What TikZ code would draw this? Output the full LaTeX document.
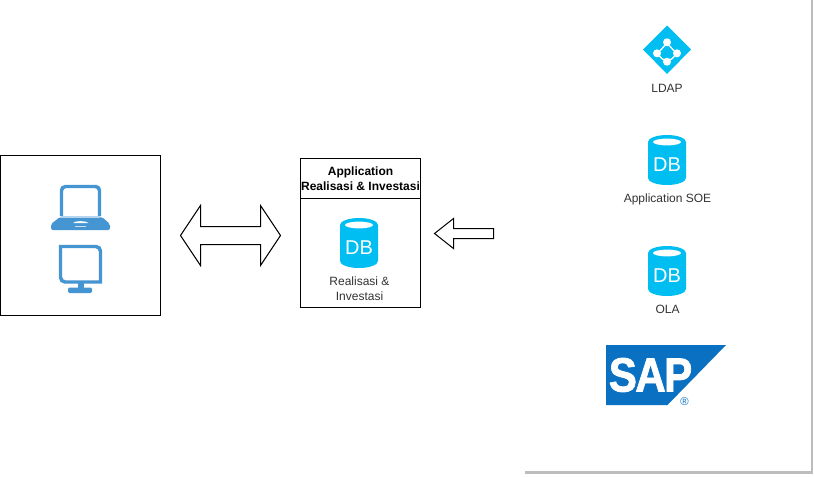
\documentclass[tikz,border=0pt]{standalone}
\usepackage{fontspec}
\setmainfont{Liberation Sans}
\newfontfamily\sapfont[FakeBold=1.6,LetterSpace=-4]{Liberation Sans Bold}
\definecolor{dbblue}{HTML}{00BEF2}
\definecolor{devblue}{HTML}{4495D1}
\definecolor{sapblue}{HTML}{0A70C2}
\definecolor{edgegray}{HTML}{BDBDBD}
\definecolor{labelgray}{HTML}{333333}
\tikzset{
  boxline/.style={draw=black,line width=0.75pt},
  arrowshape/.style={draw=black,fill=white,line width=0.75pt,line join=miter},
  caption/.style={font=\fontsize{9}{11}\selectfont,text=labelgray,align=center,inner sep=0pt},
  title/.style={font=\fontsize{9}{11.2}\selectfont\bfseries,text=black,align=center,inner sep=0pt},
  devline/.style={draw=devblue,line width=2.6pt},
  dbicon/.pic={
    \fill[dbblue] (0,7) arc[start angle=180,end angle=360,x radius=19,y radius=7]
       -- (38,43) arc[start angle=0,end angle=180,x radius=19,y radius=7] -- cycle;
    \fill[white] (19,7) ellipse[x radius=14,y radius=3.4];
    \node[text=white,inner sep=0pt,font=\fontsize{15}{15}\selectfont] at (19,30) {DB};
  }
}
\begin{document}
\begin{tikzpicture}[x=0.75pt,y=-0.75pt]
\useasboundingbox (0,0) rectangle (814,476);
\fill[white] (0,0) rectangle (814,476);
% grey edges
\fill[edgegray] (811,0) rectangle (813,474);
\fill[edgegray] (525,471) rectangle (813,474);
% client box
\node[boxline,minimum width=120pt,minimum height=120pt,inner sep=0pt] (client) at (80.5,235.5) {};
% laptop
\draw[devline,rounded corners=3pt] (61.5,216) -- (61.5,186.5) -- (99.5,186.5) -- (99.5,216);
\fill[devblue,rounded corners=1.5pt] (60,217) -- (102,217) -- (110,224) -- (110,230) -- (51,230) -- (51,224) -- cycle;
\fill[white] (73,223) .. controls (75,220.5) and (86,220.5) .. (88.5,223) -- cycle;
\fill[white!70!devblue] (75,225.5) rectangle (86,227);
\fill[white!60!devblue] (61,216) rectangle (100,217.5);
% monitor
\draw[devline,line join=miter] (60.5,246.5) [rounded corners=3.5pt] -- (100.5,246.5) [sharp corners] -- (100.5,282) [rounded corners=3.5pt] -- (60.5,282) [sharp corners] -- cycle;
\fill[devblue] (78,283) rectangle (83.5,288);
\fill[devblue,rounded corners=1pt] (68,287.5) rectangle (92,293);
% double arrow
\draw[arrowshape] (180.5,235.5) -- (200.5,205.5) -- (200.5,226.5) -- (260.5,226.5) -- (260.5,205.5) -- (280.5,235.5) -- (260.5,265.5) -- (260.5,244.5) -- (200.5,244.5) -- (200.5,265.5) -- cycle;
% application box
\node[boxline,minimum width=90pt,minimum height=112pt,inner sep=0pt] (app) at (360.5,233.25) {};
\draw[boxline] (300.5,198.5) -- (420.5,198.5);
\node[title] (apptitle) at (360.5,178.5) {Application\\Realisasi \& Investasi};
\pic at (340,218) {dbicon};
\node[caption] (applabel) at (359.5,289) {Realisasi \&\\Investasi};
% single arrow
\draw[arrowshape] (434.5,233.5) -- (453.5,218.5) -- (453.5,228.5) -- (493.5,228.5) -- (493.5,238.5) -- (453.5,238.5) -- (453.5,248.5) -- cycle;
% LDAP icon
\fill[dbblue] (667,25.5) -- (691,49.5) -- (667,74) -- (643,49.5) -- cycle;
\draw[white,line width=1pt] (667,43) -- (658,53) .. controls (660,58) and (663,60) .. (667,61) .. controls (671,60) and (674,58) .. (676,53) -- cycle;
\foreach \px/\py in {667/42.3,657/53.3,677/53.3,667/61.7} \fill[white] (\px,\py) circle[radius=4];
\node[caption] (ldap) at (667,88.5) {LDAP};
% DB icons
\pic at (648,135) {dbicon};
\node[caption] (soe) at (667.5,199) {Application SOE};
\pic at (648,246) {dbicon};
\node[caption] (ola) at (667.5,309) {OLA};
% SAP logo
\fill[sapblue] (606,345) -- (726,345) -- (667.5,405) -- (606,405) -- cycle;
\node[transform shape,xscale=0.88,text=white,inner sep=0pt,font=\fontsize{36}{36}\sapfont] (sap) at (650.5,375) {SAP};
\node[text=sapblue,inner sep=0pt,font=\fontsize{8.5}{8.5}\selectfont] (reg) at (684.5,401.5) {®};
\end{tikzpicture}
\end{document}
